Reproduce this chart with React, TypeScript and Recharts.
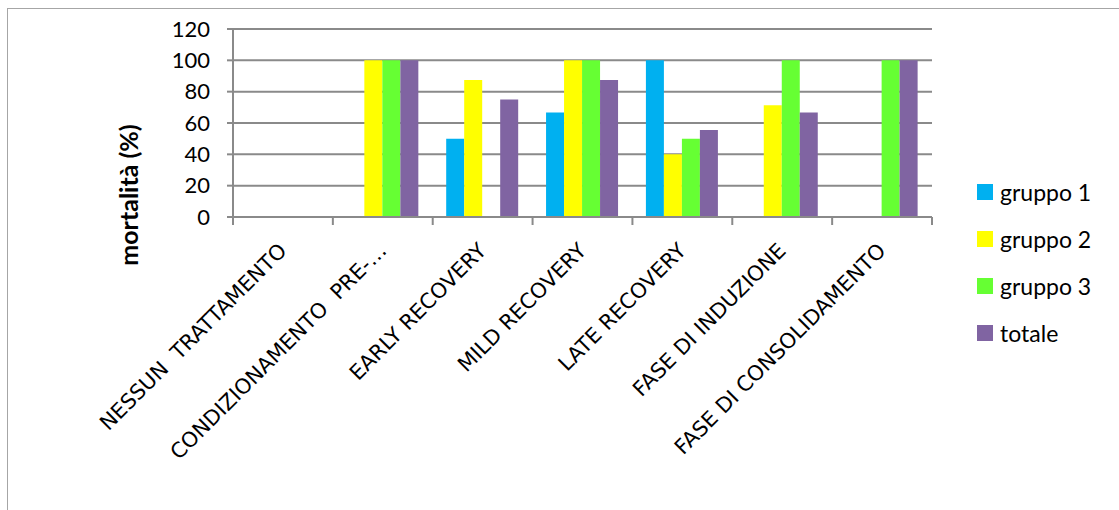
import React from 'react';
import { BarChart, Bar, XAxis, YAxis, CartesianGrid, Legend } from 'recharts';

const categories = [
  'NESSUN  TRATTAMENTO',
  'CONDIZIONAMENTO  PRE-…',
  'EARLY RECOVERY',
  'MILD RECOVERY',
  'LATE RECOVERY',
  'FASE DI INDUZIONE',
  'FASE DI CONSOLIDAMENTO',
];
const gruppo1 = [0, 0, 50, 66.7, 100, 0, 0];
const gruppo2 = [0, 100, 87.5, 100, 40, 71.4, 0];
const gruppo3 = [0, 100, 0, 100, 50, 100, 100];
const totale = [0, 100, 75, 87.5, 55.6, 66.7, 100];
const yTicks = [0, 20, 40, 60, 80, 100, 120];

const seriesNames = ['gruppo 1', 'gruppo 2', 'gruppo 3', 'totale'];
const seriesColors = ['#00B0F0', '#FFFF00', '#66FF33', '#8064A2'];

const data = categories.map((c, i) => ({
  name: c,
  g1: gruppo1[i],
  g2: gruppo2[i],
  g3: gruppo3[i],
  tot: totale[i],
}));

const GRID = '#8a8a8a';

const XTick = (props: any) => {
  const { x, y, payload, index, visibleTicksCount } = props;
  const half = payload && typeof payload.offset === 'number' ? payload.offset : 0;
  const last = index === (visibleTicksCount ?? categories.length) - 1;
  return (
    <g>
      <line x1={x - half} x2={x - half} y1={y} y2={y + 8} stroke={GRID} strokeWidth={2} />
      {last && <line x1={x + half} x2={x + half} y1={y} y2={y + 8} stroke={GRID} strokeWidth={2} />}
      <text
        x={x + 5}
        y={y + 35}
        textAnchor="end"
        transform={`rotate(-45 ${x + 5} ${y + 35})`}
        fontFamily="'DejaVu Sans', sans-serif"
        fontSize={21}
        fill="#000"
        style={{ whiteSpace: 'pre' }}
      >
        {payload.value}
      </text>
    </g>
  );
};

const renderLegend = (props: any) => {
  const payload = props.payload || [];
  return (
    <div>
      {payload.map((p: any, i: number) => (
        <div key={i} style={{ display: 'flex', alignItems: 'center', height: 47 }}>
          <div style={{ width: 16, height: 16, background: p.color, marginRight: 7 }} />
          <span style={{ fontFamily: 'Lato, sans-serif', fontSize: 23, color: '#000' }}>{p.value}</span>
        </div>
      ))}
    </div>
  );
};

const YLabel = () => (
  <text
    x={120}
    y={186}
    transform="rotate(-90 120 186)"
    textAnchor="middle"
    dominantBaseline="central"
    fontFamily="Lato, sans-serif"
    fontWeight="bold"
    fontSize={25}
    fill="#000"
  >
    mortalità (%)
  </text>
);

export default function App() {
  return (
    <div
      style={{
        position: 'absolute',
        left: 7,
        top: 8,
        width: 1130,
        height: 530,
        border: '1px solid #a6a6a6',
        boxSizing: 'border-box',
        background: '#fff',
      }}
    >
      <BarChart
        width={1110}
        height={501}
        data={data}
        margin={{ top: 20, right: 46, left: 0, bottom: 0 }}
        barCategoryGap="13.5%"
        barGap={0}
      >
        <CartesianGrid vertical={false} stroke={GRID} strokeWidth={2} />
        <XAxis
          dataKey="name"
          height={293}
          interval={0}
          axisLine={{ stroke: GRID, strokeWidth: 2 }}
          tickLine={false}
          tickSize={0}
          tickMargin={0}
          tick={<XTick />}
        />
        <YAxis
          width={225}
          domain={[0, 120]}
          ticks={yTicks}
          interval={0}
          axisLine={{ stroke: GRID, strokeWidth: 2 }}
          tickLine={{ stroke: GRID, strokeWidth: 2 }}
          tickSize={6}
          tickMargin={17}
          tick={{ fontFamily: 'Lato, sans-serif', fontSize: 22, fill: '#000' }}
          label={<YLabel />}
        />
        <Legend
          layout="vertical"
          align="right"
          verticalAlign="top"
          content={renderLegend}
          wrapperStyle={{ left: 969, top: 159, width: 140 }}
        />
        <Bar dataKey="g1" name={seriesNames[0]} fill={seriesColors[0]} isAnimationActive={false} />
        <Bar dataKey="g2" name={seriesNames[1]} fill={seriesColors[1]} isAnimationActive={false} />
        <Bar dataKey="g3" name={seriesNames[2]} fill={seriesColors[2]} isAnimationActive={false} />
        <Bar dataKey="tot" name={seriesNames[3]} fill={seriesColors[3]} isAnimationActive={false} />
      </BarChart>
    </div>
  );
}
